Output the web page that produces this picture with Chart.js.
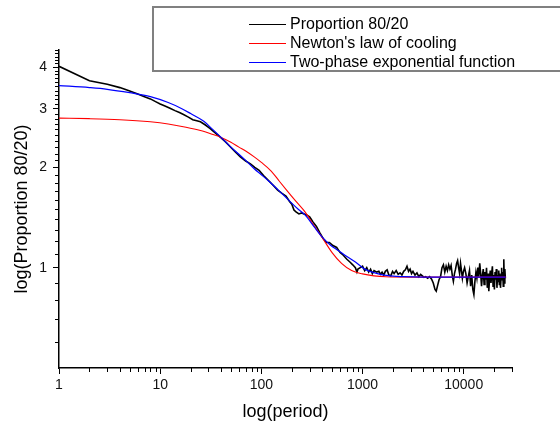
<!DOCTYPE html>
<html>
<head>
<meta charset="utf-8">
<script src="https://cdn.jsdelivr.net/npm/chart.js@4/dist/chart.umd.min.js"></script>
<style>
  html, body { margin: 0; padding: 0; background: #fff; }
  #wrap { width: 560px; height: 425px; position: relative; }
</style>
</head>
<body>
<div id="wrap"><canvas id="c"></canvas></div>
<script>
// ---- Data ----
const seriesLabels = ["Proportion 80/20", "Newton's law of cooling", "Two-phase exponential function"];

const blackPeriod = [1,2,3,4,5,6,7,8,9,10,11,12.5,14,15.5,17,19,21,23,25,28,31,35,39,44,49,55,62,70,78,86,95,105,117,130,145,160,175,190,200,210,220,235,250,265,280,300,325,350,380,410,440,470,510,555,600,645,700,750,800,850,880,900,950,1000,
1050,1100,1150,1200,1250,1300,1380,1450,1500,1560,1620,1680,1750,1820,1900,1980,2050,2150,2250,2350,2450,2550,2650,2750,2850,2950,3050,3150,3300,3450,3600,3750,3900,4050,4200,4400,4600,4800,5000,5200,5350,5500,5700,5900,6100,6300,6500,6700,6900,7100,7300,7500,7700,7900,8100,8300,8500,8700,8900,9100,9300,9500,9700,9900,
10200,10500,10800,11100,11400,11700,12000,12300,12600,12900,13200,13500,13800,14100,14400,14700,15000,15300,15600,15900,16200,16500,16800,17100,17400,17700,18000,18300,18600,18900,19200,19500,19800,20100,20400,20700,21000,21300,21600,21900,22200,22500,22800,23100,23400,23700,24000,24300,24600,24900,25200,25500,25800];
const blackValue = [4.02,3.64,3.55,3.47,3.39,3.32,3.26,3.21,3.15,3.10,3.06,3.01,2.96,2.92,2.88,2.83,2.78,2.76,2.74,2.68,2.62,2.54,2.47,2.39,2.31,2.23,2.15,2.09,2.05,2.00,1.96,1.89,1.83,1.77,1.71,1.67,1.64,1.58,1.55,1.49,1.47,1.45,1.46,1.45,1.44,1.42,1.37,1.33,1.27,1.22,1.19,1.19,1.165,1.15,1.11,1.09,1.06,1.04,1.02,1.00,0.97,0.99,1.00,1.01,
0.98,1.00,0.97,0.99,0.96,0.98,0.97,0.975,0.955,0.97,0.95,0.975,0.985,0.95,0.945,0.975,0.96,0.98,0.955,0.965,0.95,0.975,0.985,1.01,0.975,0.99,0.96,0.975,0.95,0.965,0.94,0.955,0.945,0.935,0.94,0.93,0.94,0.925,0.90,0.86,0.85,0.88,0.92,0.94,1.00,1.02,0.97,1.01,0.98,1.02,0.99,1.015,0.95,0.91,0.96,0.99,1.03,1.05,1.00,0.96,1.03,0.98,0.93,0.97,
1.00,0.96,0.90,0.94,0.98,0.88,0.95,0.86,0.83,0.91,0.97,0.93,1.00,0.94,1.03,0.96,0.88,0.95,0.99,0.89,0.97,0.92,1.00,0.87,0.96,0.85,0.93,0.98,0.90,0.96,1.01,0.88,0.95,0.86,0.97,0.92,0.99,0.87,0.95,0.91,0.98,0.89,0.96,0.87,0.94,1.00,0.92,0.97,0.88,1.06,0.90,0.99,0.93];

const newtonPeriod = [1,2,4,8,12,18,25,32,40,50,60,70,85,100,125,150,180,220,270,330,400,500,620,780,1000,1300,1700,3000,26000];
const newtonValue  = [2.81,2.80,2.78,2.74,2.70,2.64,2.58,2.52,2.46,2.38,2.30,2.24,2.15,2.07,1.95,1.82,1.70,1.58,1.47,1.34,1.23,1.11,1.03,0.98,0.958,0.945,0.939,0.937,0.937];

const twoPhasePeriod = [1,2,3,5,8,12,16,20,27,33,40,50,60,72,85,100,118,150,186,230,270,330,400,480,580,700,850,1050,1400,1800,2500,4000,26000];
const twoPhaseValue  = [3.52,3.47,3.43,3.35,3.26,3.13,3.01,2.90,2.75,2.60,2.46,2.30,2.19,2.08,1.98,1.90,1.82,1.70,1.595,1.50,1.44,1.33,1.235,1.17,1.125,1.08,1.04,0.99,0.96,0.946,0.94,0.937,0.937];

const xMajorTicks = [1,10,100,1000,10000];
const xMinorTicks = [2,3,4,5,6,7,8,9,20,30,40,50,60,70,80,90,200,300,400,500,600,700,800,900,2000,3000,4000,5000,6000,7000,8000,9000,20000,30000];
const yMajorTicks = [1,2,3,4];
const yMinorTicks = [0.6,0.7,0.8,0.9,1.1,1.2,1.3,1.4,1.5,1.6,1.7,1.8,1.9,2.1,2.2,2.3,2.4,2.5,2.6,2.7,2.8,2.9,3.1,3.2,3.3,3.4,3.5,3.6,3.7,3.8,3.9,4.1,4.2,4.3,4.4,4.5];

// ---- Chart ----
const FONT = 'Arial, "Liberation Sans", sans-serif';
Chart.defaults.font.family = FONT;
Chart.defaults.color = '#111';

const toPts = (xs, ys) => xs.map((x, i) => ({x: x, y: ys[i]}));

const minorTickPlugin = {
  id: 'minorTicks',
  afterDraw(chart) {
    const {ctx, scales: {x, y}} = chart;
    ctx.save();
    ctx.strokeStyle = '#000';
    ctx.lineWidth = 1;
    xMinorTicks.forEach(v => {
      const px = Math.round(x.getPixelForValue(v)) + 0.5;
      ctx.beginPath(); ctx.moveTo(px, x.top); ctx.lineTo(px, x.top + 4); ctx.stroke();
    });
    yMinorTicks.forEach(v => {
      const py = Math.round(y.getPixelForValue(v)) + 0.5;
      ctx.beginPath(); ctx.moveTo(y.right, py); ctx.lineTo(y.right - 4, py); ctx.stroke();
    });
    ctx.restore();
  }
};

const legendPlugin = {
  id: 'boxLegend',
  afterDraw(chart) {
    const {ctx} = chart;
    ctx.save();
    ctx.strokeStyle = '#808080';
    ctx.lineWidth = 2;
    ctx.strokeRect(153, 7, 420, 64);
    ctx.font = '16px ' + FONT;
    ctx.textBaseline = 'middle';
    ctx.textAlign = 'left';
    const rows = [24, 43, 62];
    chart.data.datasets.forEach((ds, i) => {
      ctx.strokeStyle = ds.borderColor;
      ctx.lineWidth = 1;
      ctx.beginPath(); ctx.moveTo(249, rows[i] + 0.5); ctx.lineTo(286, rows[i] + 0.5); ctx.stroke();
      ctx.fillStyle = '#000';
      ctx.fillText(ds.label, 290, rows[i] + 1);
    });
    ctx.restore();
  }
};

new Chart(document.getElementById('c'), {
  type: 'line',
  data: {
    datasets: [
      { label: seriesLabels[0], data: toPts(blackPeriod, blackValue), borderColor: '#000000', borderWidth: 1.6, pointRadius: 0, tension: 0, order: 3 },
      { label: seriesLabels[1], data: toPts(newtonPeriod, newtonValue), borderColor: '#ff0000', borderWidth: 1.1, pointRadius: 0, cubicInterpolationMode: 'monotone', order: 2 },
      { label: seriesLabels[2], data: toPts(twoPhasePeriod, twoPhaseValue), borderColor: '#0000ff', borderWidth: 1.2, pointRadius: 0, cubicInterpolationMode: 'monotone', order: 1 }
    ]
  },
  options: {
    responsive: true,
    maintainAspectRatio: false,
    animation: false,
    layout: { padding: { top: 50, right: 48, left: 0, bottom: 0 } },
    plugins: { legend: { display: false }, tooltip: { enabled: false } },
    scales: {
      x: {
        type: 'logarithmic',
        min: 1, max: 30000,
        afterBuildTicks: s => { s.ticks = xMajorTicks.map(v => ({value: v, major: true})); },
        afterFit: s => { s.height = 57; s.paddingLeft = 0; s.paddingRight = 0; },
        grid: { drawOnChartArea: false, drawTicks: true, tickLength: 6, color: '#000', tickWidth: 1 },
        border: { display: true, color: '#000', width: 1.5 },
        ticks: { autoSkip: false, maxRotation: 0, padding: 3, font: { size: 14 }, color: '#111',
                 callback: v => String(v) },
        title: { display: true, text: 'log(period)', font: { size: 18 }, color: '#000', padding: { top: 0, bottom: 2 } }
      },
      y: {
        type: 'logarithmic',
        min: 0.5, max: 4.5,
        afterBuildTicks: s => { s.ticks = yMajorTicks.map(v => ({value: v, major: true})); },
        afterFit: s => { s.width = 59; s.paddingTop = 0; s.paddingBottom = 0; },
        grid: { drawOnChartArea: false, drawTicks: true, tickLength: 6, color: '#000', tickWidth: 1 },
        border: { display: true, color: '#000', width: 1.5 },
        ticks: { autoSkip: false, padding: 6, font: { size: 14 }, color: '#111',
                 callback: v => String(v) },
        title: { display: true, text: 'log(Proportion 80/20)', font: { size: 18 }, color: '#000', padding: { top: 11, bottom: 0 } }
      }
    }
  },
  plugins: [minorTickPlugin, legendPlugin]
});
</script>
</body>
</html>
